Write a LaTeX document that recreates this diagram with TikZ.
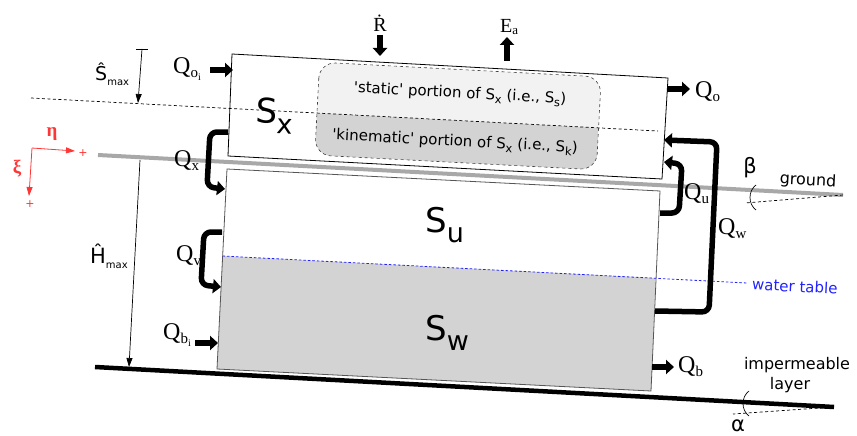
\documentclass[tikz,border=0pt]{standalone}
\usepackage{fontspec}
\setmainfont{Liberation Serif}
\newfontfamily\dvsans{DejaVu Sans}
\usetikzlibrary{arrows.meta}
\definecolor{swgray}{HTML}{D3D3D3}
\definecolor{ssgray}{HTML}{F2F2F2}
\definecolor{gndgray}{HTML}{A8A8A8}
\definecolor{axred}{HTML}{FF3636}
\definecolor{wtblue}{HTML}{2222FF}
\definecolor{boxgray}{HTML}{555555}
\newcommand{\qs}[1]{\raisebox{-4pt}{\fontsize{15}{15}\selectfont #1}}
\newcommand{\qss}[1]{\raisebox{-3pt}{\fontsize{10}{10}\selectfont #1}}
\newcommand{\bsub}[1]{\raisebox{-10pt}{\fontsize{27}{27}\selectfont #1}}
\newcommand{\msub}[1]{\raisebox{-5pt}{\fontsize{10}{10}\selectfont #1}}
\newcommand{\psub}[1]{\raisebox{-3.5pt}{\fontsize{11.5}{11.5}\selectfont #1}}
\begin{document}
\begin{tikzpicture}[x=1pt,y=-1pt,
  flow/.style={line width=5.5pt,-{Triangle[length=8pt,width=14pt]}},
  loopflow/.style={flow,rounded corners=7pt},
  dimline/.style={line width=0.7pt,-{Triangle[length=9pt,width=6pt]}},
  axarrow/.style={axred,line width=0.8pt,-{Triangle[length=9pt,width=6pt]}},
  qlab/.style={inner sep=0pt,anchor=base west,font=\fontsize{24}{24}\selectfont},
  biglab/.style={inner sep=0pt,anchor=base west,font=\dvsans\fontsize{34}{34}\selectfont},
  sanslab/.style={inner sep=0pt,font=\dvsans\fontsize{15}{15}\selectfont},
  bigsans/.style={inner sep=0pt,font=\dvsans\fontsize{16}{16}\selectfont},
  refdash/.style={dash pattern=on 3pt off 2.5pt,line width=0.7pt},
  anglearc/.style={line width=0.7pt},
]
\fill[white] (0,0) rectangle (857,436);
\useasboundingbox (0,0) rectangle (857,436);

% ground and impermeable layer
\coordinate (gL) at (98,155);
\coordinate (gR) at (843,195);
\coordinate (bA) at (745,203);
\draw[gndgray,line width=4pt] (gL) -- (gR);
\draw[refdash] (gR) -- (bA);
\draw[anglearc] (756,185) .. controls (748,191) and (748,204) .. (756,210);
\coordinate (iL) at (95,367);
\coordinate (iR) at (834,407);
\coordinate (aA) at (733,414);
\draw[line width=4.5pt] (iL) -- (iR);
\draw[refdash] (iR) -- (aA);
\draw[anglearc] (749,391) .. controls (741,397) and (741,410) .. (749,416);

% S_x box
\coordinate (xTL) at (232,54);
\coordinate (xTR) at (668,78);
\coordinate (xBR) at (662,179);
\coordinate (xBL) at (228,156);
\draw[fill=white,line width=0.8pt] (xTL) -- (xTR) -- (xBR) -- (xBL) -- cycle;

% static / kinematic rounded box
\begin{scope}[shift={(458,116)},rotate=-3]
  \begin{scope}
    \clip[rounded corners=16pt] (-141,-46.5) rectangle (141,46.5);
    \fill[ssgray] (-141,-46.5) rectangle (141,4.5);
    \fill[swgray] (-141,4.5) rectangle (141,46.5);
  \end{scope}
  \draw[dashed,rounded corners=16pt,line width=0.6pt,black!75] (-141,-46.5) rectangle (141,46.5);
\end{scope}

% S_max line
\coordinate (dL) at (31,98);
\coordinate (dR) at (658,131);
\draw[refdash] (dL) -- (dR);

% S_u / S_w box
\coordinate (uTL) at (227,169);
\coordinate (uTR) at (660,191);
\coordinate (uBR) at (651,391);
\coordinate (uBL) at (217,369);
\coordinate (wL) at (222.5,256);
\coordinate (wR) at (655.5,278);
\coordinate (wE) at (747,283);
\fill[swgray] (wL) -- (wR) -- (uBR) -- (uBL) -- cycle;
\draw[boxgray,line width=0.8pt] (uTL) -- (uTR) -- (uBR) -- (uBL) -- cycle;
\draw[wtblue,dash pattern=on 2.5pt off 2pt,line width=0.8pt] (wL) -- (wE);

% straight flows
\coordinate (qoiS) at (210,70);  \coordinate (qoiE) at (233,70);
\coordinate (qoS) at (667,89);   \coordinate (qoE) at (690,89);
\coordinate (qbiS) at (195,343); \coordinate (qbiE) at (218,343);
\coordinate (qbS) at (652,367);  \coordinate (qbE) at (674,367);
\coordinate (rS) at (380,35);    \coordinate (rE) at (380,56);
\coordinate (eS) at (507,61);    \coordinate (eE) at (507,37);
\draw[flow] (qoiS) -- (qoiE);
\draw[flow] (qoS) -- (qoE);
\draw[flow] (qbiS) -- (qbiE);
\draw[flow] (qbS) -- (qbE);
\draw[flow] (rS) -- (rE);
\draw[flow] (eS) -- (eE);

% looping flows
\coordinate (qxS) at (228,132); \coordinate (qxA) at (210,132);
\coordinate (qxB) at (207,187); \coordinate (qxE) at (225,189);
\draw[loopflow] (qxS) -- (qxA) -- (qxB) -- (qxE);
\coordinate (qvS) at (222,232); \coordinate (qvA) at (204,232);
\coordinate (qvB) at (201,285); \coordinate (qvE) at (221,287);
\draw[loopflow] (qvS) -- (qvA) -- (qvB) -- (qvE);
\coordinate (quS) at (660,213); \coordinate (quA) at (679,213);
\coordinate (quB) at (682,164); \coordinate (quE) at (664,162);
\draw[loopflow] (quS) -- (quA) -- (quB) -- (quE);
\coordinate (qwS) at (655,311); \coordinate (qwA) at (709,312);
\coordinate (qwB) at (717,142); \coordinate (qwE) at (664,140);
\draw[loopflow] (qwS) -- (qwA) -- (qwB) -- (qwE);

% dimension arrows
\coordinate (smT) at (142,49); \coordinate (smB) at (138,103);
\coordinate (smBarL) at (136,49); \coordinate (smBarR) at (148,49);
\draw[dimline] (smT) -- (smB);
\draw[line width=0.7pt] (smBarL) -- (smBarR);
\coordinate (hmT) at (140,160); \coordinate (hmB) at (129,367);
\draw[dimline] (hmT) -- (hmB);

% red axes
\coordinate (ax0) at (32,148);
\coordinate (axE) at (75,151);
\coordinate (axX) at (29,196);
\draw[axarrow] (ax0) -- (axE);
\draw[axarrow] (ax0) -- (axX);
\node[axred,inner sep=0pt,font=\dvsans\fontsize{11}{11}\selectfont] (plusE) at (83,153) {+};
\node[axred,inner sep=0pt,font=\dvsans\fontsize{11}{11}\selectfont] (plusX) at (30,204) {+};
\node[axred,inner sep=0pt,font=\bfseries\fontsize{19}{19}\selectfont] (eta) at (52,134) {η};
\node[axred,inner sep=0pt,font=\bfseries\fontsize{19}{19}\selectfont] (xi) at (17,169) {ξ};

% flow labels
\node[qlab] (lqoi) at (173,74) {Q\qs{o\qss{i}}};
\node[qlab] (lqo) at (695,98) {Q\qs{o}};
\node[qlab] (lqx) at (174,166) {Q\qs{x}};
\node[qlab] (lqu) at (684,199) {Q\qs{u}};
\node[qlab] (lqw) at (718,234) {Q\qs{w}};
\node[qlab] (lqv) at (176,261) {Q\qs{v}};
\node[qlab] (lqbi) at (163,339) {Q\qs{b\qss{i}}};
\node[qlab] (lqb) at (678,372) {Q\qs{b}};
\node[inner sep=0pt,anchor=base,font=\fontsize{20}{20}\selectfont] (lr) at (380,32) {\.{R}};
\node[inner sep=0pt,anchor=base west,font=\fontsize{20}{20}\selectfont] (le) at (500,33) {E\raisebox{-2pt}{\fontsize{13}{13}\selectfont a}};

% storage labels
\node[biglab,rotate=-3] (lsx) at (255,122) {S\bsub{x}};
\node[biglab] (lsu) at (425,232) {S\bsub{u}};
\node[biglab] (lsw) at (425,340) {S\bsub{w}};

% max labels
\node[inner sep=0pt,anchor=base west,font=\dvsans\fontsize{19}{19}\selectfont] (lsmax) at (95,81) {\^{S}\msub{max}};
\node[inner sep=0pt,anchor=base west,font=\dvsans\fontsize{21}{21}\selectfont] (lhmax) at (90,263) {\^{H}\msub{max}};

% portion labels
\node[sanslab,rotate=-3] (lstatic) at (460,94) {\textquotesingle static\textquotesingle{} portion of S\psub{x} (i.e., S\psub{s})};
\node[sanslab,rotate=-3] (lkin) at (455,142) {\textquotesingle kinematic\textquotesingle{} portion of S\psub{x} (i.e., S\psub{k})};

% other labels
\node[bigsans,rotate=-3] (lground) at (808,181) {ground};
\node[sanslab,rotate=-3,wtblue,anchor=west] (lwt) at (752,284) {water table};
\node[bigsans] (limp) at (797,365) {impermeable};
\node[bigsans] (llayer) at (790,385) {layer};
\node[inner sep=0pt,font=\dvsans\fontsize{21}{21}\selectfont] (lbeta) at (750,168) {β};
\node[inner sep=0pt,font=\dvsans\fontsize{21}{21}\selectfont] (lalpha) at (738,426) {α};
\end{tikzpicture}
\end{document}
